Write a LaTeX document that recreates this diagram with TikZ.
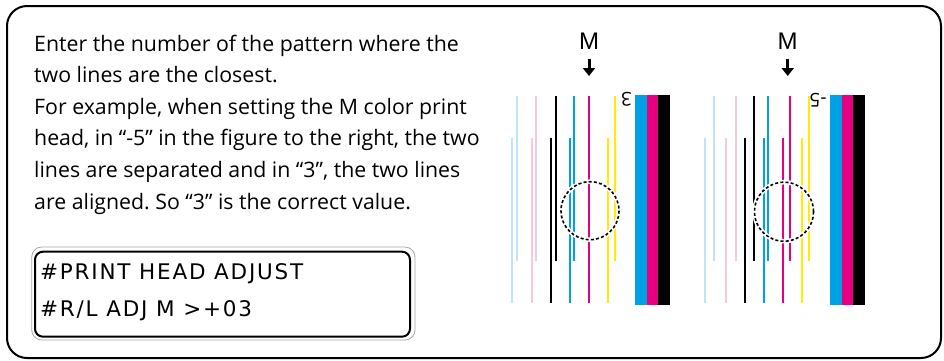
\documentclass[tikz,border=0pt]{standalone}
\usepackage{fontspec}
\setmainfont{Open Sans}
\newfontfamily\headfont{Liberation Sans}
\newfontfamily\lcdfont[LetterSpace=8.3]{DejaVu Sans}
\usetikzlibrary{arrows.meta,positioning}
\frenchspacing

\definecolor{lcyan}{RGB}{190,228,246}
\definecolor{lpink}{RGB}{246,200,222}
\definecolor{pcyan}{RGB}{0,160,228}
\definecolor{pmag}{RGB}{228,0,127}
\definecolor{pyel}{RGB}{255,236,0}

\begin{document}
\begin{tikzpicture}[x=1pt, y=-1pt,
    frame/.style={draw, line width=2pt, rounded corners=20pt},
    note/.style={anchor=north west, align=left, inner sep=0pt, font=\fontsize{21.3}{31.6}\selectfont},
    lcdline/.style={anchor=base west, inner sep=0pt, font=\lcdfont\fontsize{21.5}{21.5}\selectfont},
    headlbl/.style={anchor=base, inner sep=0pt, font=\headfont\fontsize{24}{24}\selectfont},
    pointer/.style={-{Triangle[width=12pt,length=8pt]}, line width=3pt},
    ink/.style={line width=2pt, draw=#1},
    bar/.style={fill=#1, draw=none},
    flipnum/.style={rotate=180, inner sep=0pt, font=\fontsize{19}{19}\selectfont},
    zone/.style={draw=black, line width=1.6pt, dash pattern=on 3pt off 2.2pt}
]
\useasboundingbox (0,0) rectangle (944,360);

% Outer frame
\draw[frame] (7,6) rectangle (941,358);

% Instructions
\node[note] (intro) at (34,34.5) {Enter the number of the pattern where the\\
two lines are the closest.\\
For example, when setting the M color print\\
head, in “-5” in the figure to the right, the two\\
lines are separated and in “3”, the two lines\\
are aligned. So “3” is the correct value.};

% LCD panel
\draw[draw=gray!70, fill=white, line width=0.8pt, rounded corners=10pt] (31.7,247) rectangle (415,340);
\draw[line width=2pt, rounded corners=8pt] (35,251.7) rectangle (410,336.7);
\node[lcdline] (lcdA) at (40,279.3) {\#PRINT HEAD ADJUST};
\node[lcdline] (lcdB) at (40,316) {\#R/L ADJ M >+03};

% Pattern "3" (aligned)
\node[headlbl] (mL) at (589,49.5) {M};
\coordinate (tipL) at (589,76);
\draw[pointer] ([yshift=-9pt]mL.south) -- (tipL);
\foreach \xx/\cc in {516.7/lcyan, 535.7/lpink, 556/black, 574/pcyan, 589.3/pmag, 615.3/pyel}
    \draw[ink=\cc] (\xx,96) -- (\xx,261);
\foreach \xx/\cc in {512/lcyan, 532/lpink, 551/black, 570/pcyan, 589.3/pmag, 608.3/pyel}
    \draw[ink=\cc] (\xx,137.7) -- (\xx,303.3);
\fill[bar=pcyan] (635,95) rectangle (647,305);
\fill[bar=pmag] (647,95) rectangle (658,305);
\fill[bar=black] (658,95) rectangle (670,305);
\node[flipnum] (numL) at (626.5,99.5) {3};
\draw[white, line width=4.5pt] (590,210.7) circle (29);
\draw[zone] (590,210.7) circle (29);

% Pattern "-5" (separated)
\node[headlbl] (mR) at (787.7,49.5) {M};
\coordinate (tipR) at (787.7,76);
\draw[pointer] ([yshift=-9pt]mR.south) -- (tipR);
\foreach \xx/\cc in {714.3/lcyan, 736/lpink, 754/black, 768/pcyan, 790/pmag, 809/pyel}
    \draw[ink=\cc] (\xx,96) -- (\xx,261);
\foreach \xx/\cc in {705/lcyan, 725.7/lpink, 745/black, 764/pcyan, 782.7/pmag, 801.7/pyel}
    \draw[ink=\cc] (\xx,137.7) -- (\xx,303.3);
\fill[bar=pcyan] (830,95) rectangle (841.7,305);
\fill[bar=pmag] (841.7,95) rectangle (853.3,305);
\fill[bar=black] (853.3,95) rectangle (865,305);
\node[flipnum] (numR) at (818,100) {-5};
\draw[white, line width=4.5pt] (784,211.7) circle (29.5);
\draw[zone] (784,211.7) circle (29.5);
\end{tikzpicture}
\end{document}
